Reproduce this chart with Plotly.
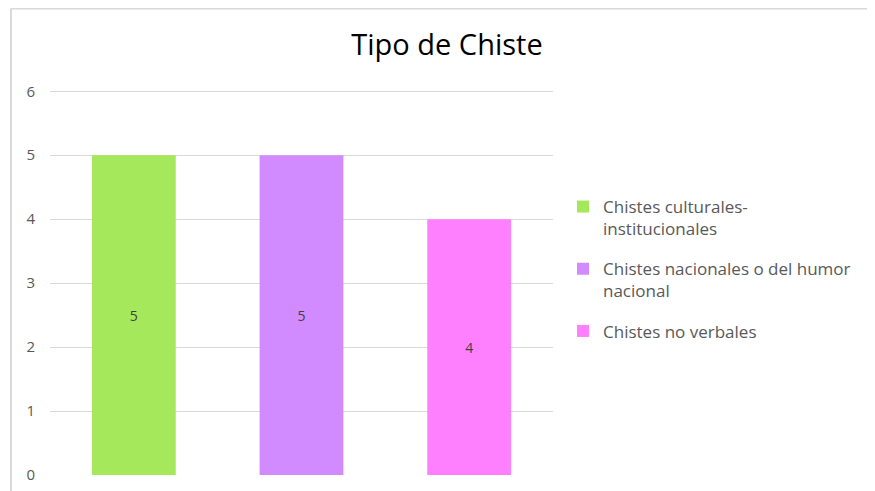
import plotly.graph_objects as go

# Chart data
categories = ['Chistes culturales-<br>institucionales',
              'Chistes nacionales o del humor<br>nacional',
              'Chistes no verbales']
values = [5, 5, 4]
colors = ['#a6e85c', '#d28bff', '#ff80ff']
y_ticks = [0, 1, 2, 3, 4, 5, 6]

FONT = 'Open Sans, sans-serif'

# plot area in figure pixels (page has an 8px body margin)
L, R, T, B = 42, 330, 82, 24
W, H = 875, 491
pw, ph = W - L - R, H - T - B

fig = go.Figure()
for i, (cat, val, col) in enumerate(zip(categories, values, colors)):
    fig.add_trace(go.Bar(
        x=[i], y=[val], name=cat,
        marker_color=col, marker_line_width=0,
        width=0.5,
        text=[str(val)], textposition='inside', insidetextanchor='middle',
        textfont=dict(family=FONT, size=14, color='#404040'),
        legendgroup=f'g{i}',
        hoverinfo='y+name',
    ))

# chart frame (light grey border, only left/top visible)
fx = (3 - L) / pw
fy = (H - B - 0.5) / ph
fig.add_shape(type='line', xref='paper', yref='paper', x0=fx, x1=fx, y0=-0.2, y1=fy,
              line=dict(color='#d9d9d9', width=2))
fig.add_shape(type='line', xref='paper', yref='paper', x0=fx, x1=2.0, y0=fy, y1=fy,
              line=dict(color='#d9d9d9', width=2))

fig.update_layout(
    width=W, height=H,
    margin=dict(l=L, r=R, t=T, b=B, autoexpand=False),
    paper_bgcolor='white', plot_bgcolor='white',
    font=dict(family=FONT, size=14, color='#595959'),
    title=dict(text='Tipo de Chiste', x=(439 - L) / pw, xref='paper', xanchor='center',
               y=(H - 37) / H, yanchor='middle',
               font=dict(family=FONT, size=29, color='#000000')),
    barmode='overlay',
    showlegend=True,
    legend=dict(x=(555 - L) / pw, xanchor='left', y=(H - B - 181) / ph, yanchor='top',
                font=dict(family=FONT, size=17, color='#595959'),
                valign='top', tracegroupgap=15, itemwidth=30,
                bgcolor='rgba(0,0,0,0)'),
    xaxis=dict(range=[-0.5, 2.5], showticklabels=False, showgrid=False,
               zeroline=False, showline=False, ticks=''),
    yaxis=dict(range=[0, 6.02], tickvals=y_ticks, showgrid=True, gridcolor='#d9d9d9',
               gridwidth=1, zeroline=False, showline=False, ticks='',
               ticklabelstandoff=14, tickfont=dict(size=15, color='#595959')),
)

fig.write_html('out.html')
